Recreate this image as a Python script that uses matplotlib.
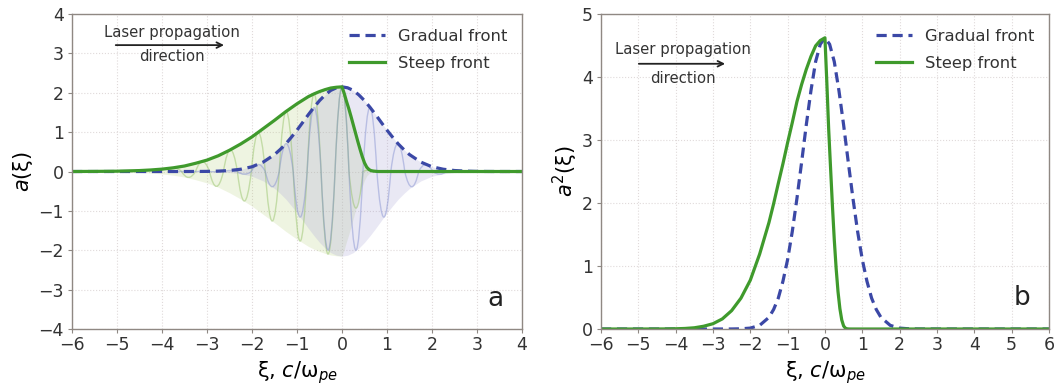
import matplotlib
matplotlib.use('Agg')
import matplotlib.pyplot as plt
from matplotlib.path import Path
from matplotlib.patches import PathPatch
import numpy as np

# envelope of the gradual-front pulse, a(xi)
x_grad = [-6.0, -3.5, -3.25, -3.0, -2.75, -2.5, -2.25, -2.0, -1.75, -1.5, -1.375, -1.25, -1.125, -1.0,
          -0.875, -0.75, -0.625, -0.5, -0.375, -0.25, -0.125, 0.0, 0.125, 0.25, 0.375, 0.5, 0.625, 0.75,
          0.875, 1.0, 1.125, 1.25, 1.375, 1.5, 1.75, 2.0, 2.25, 2.5, 2.75, 3.0, 3.25, 3.5, 6.0]
a_grad = [0.0, 0.0, 0.001, 0.003, 0.010, 0.025, 0.058, 0.12, 0.24, 0.43, 0.557, 0.70, 0.871, 1.05,
          1.244, 1.44, 1.627, 1.80, 1.945, 2.06, 2.126, 2.15, 2.126, 2.06, 1.945, 1.80, 1.627, 1.44,
          1.244, 1.05, 0.871, 0.70, 0.557, 0.43, 0.24, 0.12, 0.058, 0.025, 0.010, 0.003, 0.001, 0.0, 0.0]

# envelope of the steep-front pulse
x_steep = [-6.0, -5.5, -5.0, -4.5, -4.25, -4.0, -3.75, -3.5, -3.25, -3.0, -2.75, -2.5, -2.25, -2.0, -1.75,
           -1.5, -1.375, -1.25, -1.125, -1.0, -0.875, -0.75, -0.625, -0.5, -0.375, -0.25, -0.125, 0.0,
           0.05, 0.1, 0.15, 0.2, 0.25, 0.3, 0.35, 0.4, 0.45, 0.5, 0.55, 0.6, 0.65, 0.7, 0.8, 6.0]
a_steep = [0.0, 0.003, 0.008, 0.024, 0.039, 0.061, 0.094, 0.14, 0.21, 0.29, 0.40, 0.54, 0.70, 0.88, 1.09,
           1.30, 1.41, 1.52, 1.62, 1.72, 1.81, 1.90, 1.97, 2.03, 2.08, 2.12, 2.14, 2.15,
           1.98, 1.78, 1.60, 1.40, 1.19, 0.98, 0.77, 0.57, 0.38, 0.22, 0.11, 0.05, 0.02, 0.01, 0.0, 0.0]

# extrema of the laser field oscillations (faint lines in panel a)
osc_x = [-3.72, -3.41, -3.10, -2.79, -2.48, -2.17, -1.86, -1.55, -1.24, -0.93, -0.62, -0.31,
         0.0, 0.31, 0.62, 0.93, 1.24, 1.55, 1.86, 2.17, 2.48, 2.79, 3.10]
osc_steep = [0.09, -0.15, 0.25, -0.38, 0.55, -0.75, 0.99, -1.26, 1.53, -1.77, 1.97, -2.10,
             2.15, -0.93, 0.04, 0.0, 0.0, 0.0, 0.0, 0.0, 0.0, 0.0, 0.0]
osc_grad = [0.0, -0.001, 0.002, -0.008, 0.027, -0.07, 0.18, -0.39, 0.71, -1.16, 1.63, -2.00,
            2.15, -2.00, 1.63, -1.16, 0.71, -0.39, 0.18, -0.07, 0.027, -0.008, 0.002]

labels = ['Gradual front', 'Steep front']
c_grad = '#3b48a6'
c_steep = '#3f9a2c'
spine_c = '#8f8883'


def oscillation(ax, xs, vs, color):
    # each half period drawn as a smooth lobe between zero crossings
    verts = []
    codes = []
    z0 = xs[0] - (xs[1] - xs[0]) / 2
    verts.append((z0, 0))
    codes.append(Path.MOVETO)
    for i in range(len(xs)):
        if i < len(xs) - 1:
            z1 = (xs[i] + xs[i + 1]) / 2
        else:
            z1 = xs[i] + (xs[i] - xs[i - 1]) / 2
        verts += [(xs[i], 2 * vs[i]), (z1, 0)]
        codes += [Path.CURVE3, Path.CURVE3]
    ax.add_patch(PathPatch(Path(verts, codes), facecolor='none', edgecolor=color, lw=1.0, alpha=0.45))


def style(ax):
    for s in ax.spines.values():
        s.set_color(spine_c)
        s.set_linewidth(1.0)
    ax.tick_params(colors='#333333', labelsize=12.5, length=3, width=0.8, color=spine_c, pad=2)
    ax.tick_params(axis='y', pad=3)
    ax.grid(True, ls=':', color='#e0dada', lw=0.8)
    ax.set_axisbelow(True)


def legend(ax):
    leg = ax.legend(loc='upper right', fontsize=11.8, frameon=False, handlelength=2.2,
                    handletextpad=0.8, borderaxespad=0.5, labelspacing=0.75)
    for t in leg.get_texts():
        t.set_color('#333333')


plt.rcParams['mathtext.fontset'] = 'dejavusans'
fig = plt.figure(figsize=(10.56, 3.89), dpi=100)
ax1 = fig.add_axes([0.0682, 0.1542, 0.4261, 0.8098])
ax2 = fig.add_axes([0.5691, 0.1542, 0.4242, 0.8098])

# panel a
ax1.fill_between(x_steep, -np.array(a_steep), a_steep, color='#b5cf7a', alpha=0.22, lw=0)
ax1.fill_between(x_grad, -np.array(a_grad), a_grad, color='#a8a4d6', alpha=0.25, lw=0)
oscillation(ax1, osc_x, osc_steep, '#8fbf60')
oscillation(ax1, osc_x, osc_grad, '#7f8ccf')
ax1.plot(x_grad, a_grad, ls=(0, (3.2, 1.8)), color=c_grad, lw=2.3, label=labels[0])
ax1.plot(x_steep, a_steep, color=c_steep, lw=2.3, label=labels[1])
ax1.set_xlim(-6, 4)
ax1.set_ylim(-4, 4)
ax1.set_xticks(range(-6, 5))
ax1.set_yticks(range(-4, 5))
ax1.set_xlabel(r'ξ, $c$/ω$_{pe}$', fontsize=15, labelpad=4)
ax1.set_ylabel(r'$a$(ξ)', fontsize=15, labelpad=2)
ax1.text(3.6, -3.25, 'a', fontsize=19, ha='right', va='center', color='#222222')
ax1.text(-3.78, 3.54, 'Laser propagation', fontsize=10.7, ha='center', va='center', color='#333333')
ax1.text(-3.78, 2.93, 'direction', fontsize=10.7, ha='center', va='center', color='#333333')
ax1.annotate('', xy=(-2.56, 3.21), xytext=(-5.09, 3.21),
             arrowprops=dict(arrowstyle='->', color='#222222', lw=1.3))
style(ax1)
legend(ax1)

# panel b
ax2.plot(x_grad, np.array(a_grad) ** 2, ls=(0, (3.2, 1.8)), color=c_grad, lw=2.3, label=labels[0])
ax2.plot(x_steep, np.array(a_steep) ** 2, color=c_steep, lw=2.3, label=labels[1])
ax2.set_xlim(-6, 6)
ax2.set_ylim(0, 5)
ax2.set_xticks(range(-6, 7))
ax2.set_yticks(range(0, 6))
ax2.set_xlabel(r'ξ, $c$/ω$_{pe}$', fontsize=15, labelpad=4)
ax2.set_ylabel(r'$a^2$(ξ)', fontsize=15, labelpad=1)
ax2.text(5.5, 0.5, 'b', fontsize=19, ha='right', va='center', color='#222222')
ax2.text(-3.80, 4.44, 'Laser propagation', fontsize=10.7, ha='center', va='center', color='#333333')
ax2.text(-3.80, 3.98, 'direction', fontsize=10.7, ha='center', va='center', color='#333333')
ax2.annotate('', xy=(-2.60, 4.21), xytext=(-5.06, 4.21),
             arrowprops=dict(arrowstyle='->', color='#222222', lw=1.3))
style(ax2)
legend(ax2)

fig.savefig('out.png', dpi=100)
